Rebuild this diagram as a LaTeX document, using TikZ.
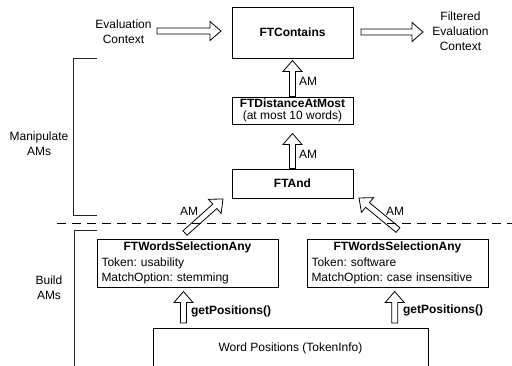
\documentclass[tikz,border=0pt]{standalone}
\usepackage{fontspec}
\setmainfont{Liberation Sans}
\frenchspacing
\usetikzlibrary{calc}
\tikzset{
  every node/.style={font=\fontsize{12}{15}\selectfont, inner sep=0pt},
  box/.style={draw, line width=0.8pt, inner sep=0pt},
  wsbox/.style={draw, line width=0.8pt, minimum width=181pt, minimum height=48pt,
    text width=172pt, inner xsep=4.5pt, inner ysep=0pt, align=left,
    font=\fontsize{12}{15.5}\selectfont},
  hollow/.style={draw, fill=white, line width=0.8pt, line join=miter},
  bracket/.style={draw=black!85, line width=0.8pt},
}
\newcommand\hollowarrow[2]{%
  \path[hollow] let \p1=($(#2)-(#1)$), \n1={atan2(\y1,\x1)} in
    ($(#1)+(\n1+90:3pt)$)
    -- ($(#2)+(\n1+180:11pt)+(\n1+90:3pt)$)
    -- ($(#2)+(\n1+180:11pt)+(\n1+90:9.5pt)$)
    -- (#2)
    -- ($(#2)+(\n1+180:11pt)+(\n1-90:9.5pt)$)
    -- ($(#2)+(\n1+180:11pt)+(\n1-90:3pt)$)
    -- ($(#1)+(\n1-90:3pt)$) -- cycle;}
\begin{document}
\begin{tikzpicture}[x=1pt,y=-1pt]
\clip (0,0) rectangle (512,366);
\fill[white] (0,0) rectangle (512,366);

% main boxes
\node[box, minimum width=121pt, minimum height=51pt] (contains) at (292.5,32.5) {\textbf{FTContains}};
\node[box, minimum width=121pt, minimum height=27pt, align=center, font=\fontsize{12}{12.5}\selectfont] (dist) at (292.5,110.5) {\textbf{FTDistanceAtMost}\\(at most 10 words)};
\node[box, minimum width=121pt, minimum height=29pt] (and) at (292.5,183.5) {\textbf{FTAnd}};
\node[wsbox] (wsl) at (187.5,263) {\makebox[172pt]{\textbf{FTWordsSelectionAny}}\\Token: usability\\MatchOption: stemming};
\node[wsbox] (wsr) at (397.5,263) {\makebox[172pt]{\textbf{FTWordsSelectionAny}}\\Token: software\\MatchOption: case insensitive};
\node[box, minimum width=275pt, minimum height=40pt] (wp) at (290.5,348) {Word Positions (TokenInfo)};

% side texts
\node[align=center] (ctx) at (123.5,32) {Evaluation\\Context};
\node[align=center] (fctx) at (460.5,31) {Filtered\\Evaluation\\Context};
\node[align=center] (manip) at (39,143.5) {Manipulate\\AMs};
\node[align=center] (build) at (49,288) {Build\\AMs};

% labels
\node (amA) at (308,81) {AM};
\node (amB) at (308,154) {AM};
\node (amL) at (189,211) {AM};
\node (amR) at (395,211) {AM};
\node (gpL) at (231,311) {\textbf{getPositions()}};
\node (gpR) at (443,310) {\textbf{getPositions()}};

% arrow end points
\coordinate (c1s) at (157,31);   \coordinate (c1e) at (221,31);
\coordinate (c2s) at (361,32);   \coordinate (c2e) at (423,32);
\coordinate (d1e) at (292.5,60.5);
\coordinate (d2e) at (292.5,133.5);
\coordinate (l1s) at (185,233);  \coordinate (l1e) at (223,199);
\coordinate (r1s) at (398,230);  \coordinate (r1e) at (359,198);
\coordinate (g1s) at (183.5,323); \coordinate (g1e) at (183.5,291.5);
\coordinate (g2s) at (394.7,323); \coordinate (g2e) at (394.7,291.5);

\hollowarrow{c1s}{c1e}
\hollowarrow{c2s}{c2e}
\hollowarrow{dist.north}{d1e}
\hollowarrow{and.north}{d2e}
\hollowarrow{l1s}{l1e}
\hollowarrow{r1s}{r1e}
\hollowarrow{g1s}{g1e}
\hollowarrow{g2s}{g2e}

% brackets and separator
\draw[bracket] (97,58) -- (73,58) -- (73,215) -- (97,215);
\draw[bracket] (97,230) -- (74,230) -- (74,370);
\draw[line width=0.8pt, dash pattern=on 9pt off 6pt] (57,223) -- (512,223);
\end{tikzpicture}
\end{document}
